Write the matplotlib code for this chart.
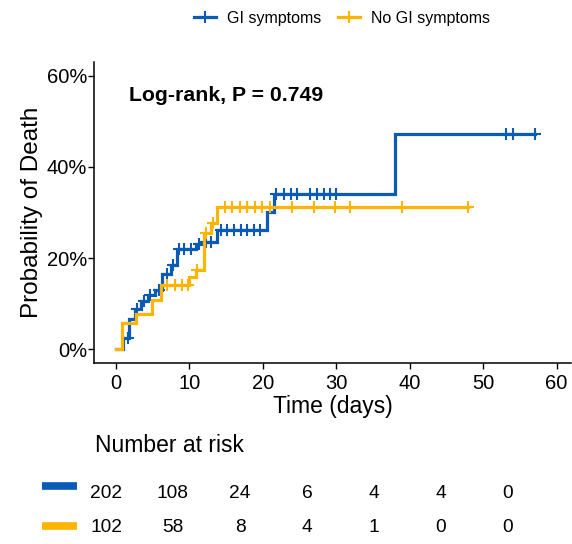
import numpy as np
import matplotlib
matplotlib.use("Agg")
import matplotlib.pyplot as plt

plt.rcParams["font.family"] = ["Liberation Sans", "DejaVu Sans"]

# ---- data ------------------------------------------------------------------
groups = ["GI symptoms", "No GI symptoms"]
colors = ["#0A5BB8", "#FFB400"]

# cumulative probability of death (%), step changes at these times (days)
gi_times = [0, 1.0, 1.8, 2.6, 3.5, 4.4, 5.3, 6.3, 7.5, 8.4, 10.9, 11.8, 13.8, 20.6, 21.5, 38.0, 57.0]
gi_prob = [0, 2.4, 6.7, 8.9, 10.6, 11.9, 13.1, 16.6, 18.5, 22.1, 23.0, 23.6, 26.2, 30.0, 34.0, 47.3, 47.3]
gi_censor = [1.7, 2.9, 3.8, 4.7, 5.9, 7.0, 7.8, 8.6, 9.3, 10.2, 11.3, 12.3, 13.0,
             14.3, 15.2, 16.1, 17.0, 17.9, 18.8, 19.7, 21.8, 22.9, 23.8, 24.7,
             26.5, 27.4, 28.3, 29.2, 30.0, 53.1, 54.0, 57.0]

nogi_times = [0, 0.9, 2.7, 5.0, 6.1, 10.0, 10.9, 12.0, 13.0, 13.8, 48.0]
nogi_prob = [0, 5.8, 7.8, 10.9, 14.0, 15.9, 17.4, 25.4, 27.6, 31.3, 31.3]
nogi_censor = [7.0, 8.1, 9.0, 9.8, 11.0, 12.3, 13.3, 14.9, 15.8, 16.9, 17.8, 19.0,
               19.9, 21.0, 24.0, 27.0, 29.9, 31.9, 39.0, 48.0]

risk_times = [0, 10, 20, 30, 40, 50, 60]
gi_risk = [202, 108, 24, 6, 4, 4, 0]
nogi_risk = [102, 58, 8, 4, 1, 0, 0]

p_value = 0.749

curves = [(gi_times, gi_prob, gi_censor), (nogi_times, nogi_prob, nogi_censor)]
risks = [gi_risk, nogi_risk]


def step_at(times, probs, t):
    idx = np.searchsorted(times, t, side="right") - 1
    return np.asarray(probs)[idx]


W, H = 572, 544
fig = plt.figure(figsize=(W / 100, H / 100), dpi=100)

# ---- survival panel --------------------------------------------------------
ax = fig.add_axes([94 / W, 1 - 363 / H, 477 / W, 301 / H])
for (t, p, c), col, name in zip(curves, colors, groups):
    ax.step(t, p, where="post", color=col, lw=2.3, solid_joinstyle="miter")
    ax.plot(c, step_at(t, p, c), ls="none", marker="+", ms=8, mew=1.5, color=col)
    ax.plot([], [], color=col, lw=2.3, marker="+", ms=8, mew=1.5, label=name)

ax.set_xlim(-2.95, 61.95)
ax.set_ylim(-3, 63)
ax.set_xticks(risk_times)
ax.set_yticks([0, 20, 40, 60])
ax.set_yticklabels([f"{v}%" for v in [0, 20, 40, 60]])
ax.tick_params(labelsize=14.5, length=4, width=1, colors="black")
ax.tick_params(axis="x", pad=4)
ax.tick_params(axis="y", pad=1)
for s in ["top", "right"]:
    ax.spines[s].set_visible(False)
for s in ["left", "bottom"]:
    ax.spines[s].set_linewidth(1.1)
ax.set_xlabel("Time (days)", fontsize=16.5, labelpad=1)
ax.set_ylabel("Probability of Death", fontsize=17.5, labelpad=3)
ax.text(1.8, 55.6, f"Log-rank, P = {p_value}", fontsize=15.3, fontweight="bold",
        va="center", ha="left")

fig.legend(loc="center", bbox_to_anchor=(342 / W, 1 - 18 / H), ncol=2, frameon=False,
           fontsize=11.5, handlelength=1.4, handletextpad=0.7, columnspacing=1.0)

# ---- number-at-risk table --------------------------------------------------
rx = fig.add_axes([85.9 / W, 0, 435.5 / W, 130 / H])
rx.set_xlim(-3, 62)
rx.set_ylim(544, 414)   # pixel-like rows
rx.axis("off")
rx.text(-1.6, 445, "Number at risk", fontsize=16.5, va="center", ha="left")
row_y = [493, 528]
key_y = [486, 525.5]
for risk, col, ry, ky in zip(risks, colors, row_y, key_y):
    for t, n in zip(risk_times, risk):
        rx.text(t, ry, str(n), fontsize=13.8, ha="center", va="center")
    rx.plot([-9.55, -4.3], [ky, ky], color=col, lw=5.5, solid_capstyle="butt", clip_on=False)

fig.savefig("out.png", dpi=100)
